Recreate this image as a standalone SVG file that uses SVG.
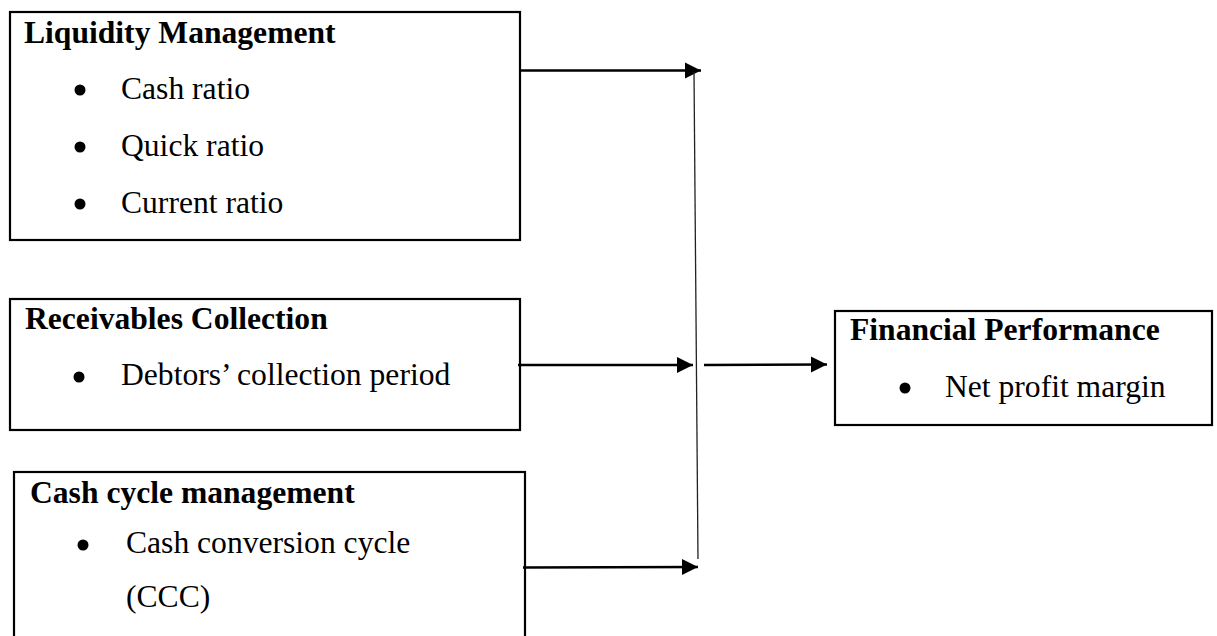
<svg xmlns="http://www.w3.org/2000/svg" width="1217" height="636" viewBox="0 0 1217 636">
<style>
.box{fill:#fff;stroke:#000;stroke-width:2.2}
.t{font-family:"Liberation Serif","Times New Roman",serif;font-size:31.6px;fill:#000}
.b{font-weight:bold}
.dot{fill:#000}
.conn{stroke:#000;stroke-width:2.4;fill:none}
.thin{stroke:#222;stroke-width:1.3;fill:none}
</style>
<defs>
<marker id="ah" markerUnits="userSpaceOnUse" markerWidth="18" markerHeight="18" refX="16" refY="8" orient="auto" overflow="visible">
<path d="M0,0 L16,8 L0,16 Z" fill="#000"/>
</marker>
</defs>
<rect width="1217" height="636" fill="#fff"/>
<g id="liquidity">
<rect class="box" x="10" y="12" width="510" height="228"/>
<text class="t b" x="24" y="43">Liquidity Management</text>
<circle class="dot" cx="80" cy="90" r="5.5"/>
<text class="t" x="121" y="99">Cash ratio</text>
<circle class="dot" cx="80" cy="147" r="5.5"/>
<text class="t" x="121" y="156">Quick ratio</text>
<circle class="dot" cx="80" cy="204" r="5.5"/>
<text class="t" x="121" y="213">Current ratio</text>
</g>
<g id="receivables">
<rect class="box" x="10" y="299" width="510" height="131"/>
<text class="t b" x="25" y="329">Receivables Collection</text>
<circle class="dot" cx="79" cy="377" r="5.5"/>
<text class="t" x="121" y="385">Debtors’ collection period</text>
</g>
<g id="cashcycle">
<rect class="box" x="14" y="472" width="511" height="190"/>
<text class="t b" x="30" y="503">Cash cycle management</text>
<circle class="dot" cx="83" cy="545" r="5.5"/>
<text class="t" x="126" y="553">Cash conversion cycle</text>
<text class="t" x="126" y="607">(CCC)</text>
</g>
<g id="performance">
<rect class="box" x="835" y="311" width="377" height="114"/>
<text class="t b" x="850" y="340">Financial Performance</text>
<circle class="dot" cx="905" cy="388" r="5.5"/>
<text class="t" x="945" y="397">Net profit margin</text>
</g>
<g id="connectors">
<line class="conn" x1="520" y1="70.5" x2="701" y2="70.5" marker-end="url(#ah)"/>
<line class="conn" x1="518" y1="365" x2="693" y2="365" marker-end="url(#ah)"/>
<line class="conn" x1="523" y1="567.5" x2="698" y2="567" marker-end="url(#ah)"/>
<line class="thin" x1="694" y1="72" x2="698" y2="559"/>
<line class="conn" x1="704" y1="365" x2="827" y2="364.5" marker-end="url(#ah)"/>
</g>
</svg>
